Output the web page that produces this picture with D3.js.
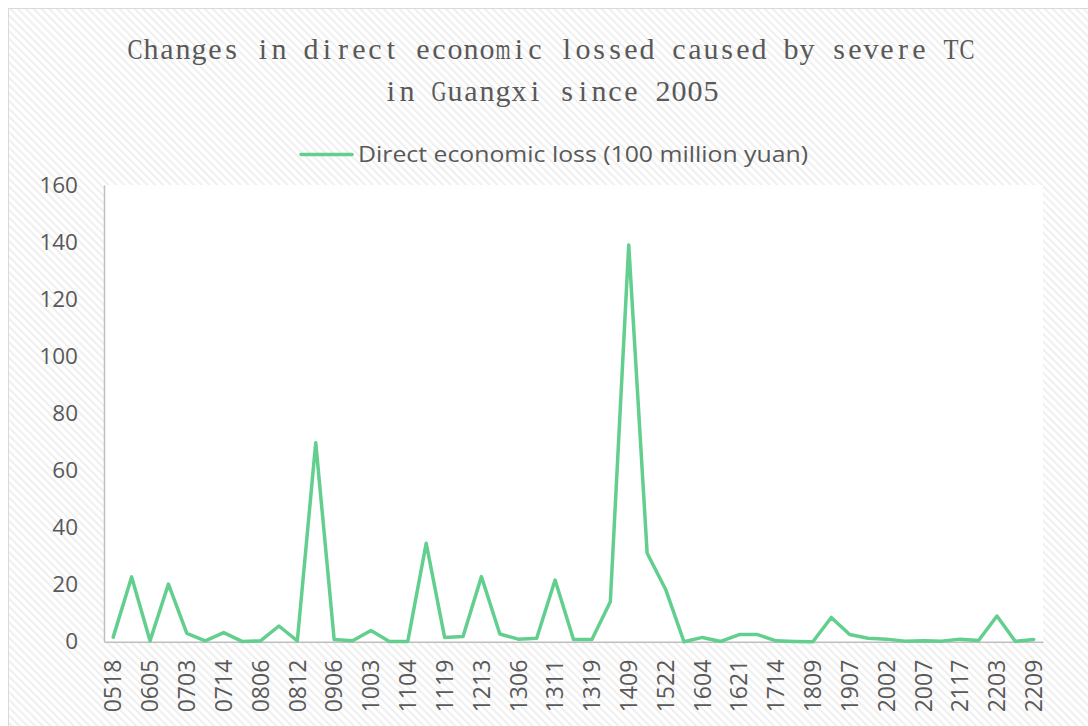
<!DOCTYPE html>
<html>
<head>
<meta charset="utf-8">
<script src="https://cdn.jsdelivr.net/npm/d3@7/dist/d3.min.js"></script>
<style>
  html, body { margin: 0; padding: 0; background: #ffffff; }
  svg { display: block; }
</style>
</head>
<body>
<svg id="chart" width="1088" height="726"></svg>
<script>
// Typhoon codes (YYNN) affecting Guangxi, in order of occurrence
const typhoons = [
  "0518","0604","0605","0606","0703","0709","0714","0801","0806","0809",
  "0812","0814","0906","0915","1003","1011","1104","1117","1119","1208",
  "1213","1223","1306","1309","1311","1316","1319","1330","1409","1415",
  "1522","1601","1604","1608","1621","1622","1714","1720","1809","1822",
  "1907","1911","2002","2004","2007","2016","2117","2118","2203","2207",
  "2209"
];

// Direct economic loss per typhoon, 100 million yuan
const lossValues = [
  1.6, 22.7, 0.3, 20.2, 2.9, 0.3, 3.2, 0.1, 0.3, 5.5,
  0.3, 69.7, 0.8, 0.3, 3.9, 0.1, 0.1, 34.5, 1.5, 1.8,
  22.8, 2.7, 0.9, 1.2, 21.6, 0.8, 0.8, 14.0, 139.0, 31.0,
  18.4, 0.0, 1.5, 0.1, 2.5, 2.5, 0.3, 0.1, 0.0, 8.5,
  2.5, 1.2, 0.9, 0.2, 0.3, 0.2, 0.9, 0.4, 9.0, 0.1,
  0.8
];

const yTicks = [0, 20, 40, 60, 80, 100, 120, 140, 160];
const titleLines = [
  "Changes in direct economic lossed caused by severe TC",
  "in Guangxi since 2005"
];
const seriesName = "Direct economic loss (100 million yuan)";

const svg = d3.select("#chart");
const W = 1088, H = 726;
const plot = { left: 104, right: 1043, top: 185, bottom: 641.7 };
const lineColor = "#62cf8f";
const textColor = "#595959";
const axisColor = "#bfbfbf";

// Diagonal hatch fill for the chart background
const defs = svg.append("defs");
const pat = defs.append("pattern")
  .attr("id", "hatch")
  .attr("patternUnits", "userSpaceOnUse")
  .attr("width", 5.5).attr("height", 5.5)
  .attr("patternTransform", "rotate(-45)");
pat.append("rect").attr("width", 5.5).attr("height", 5.5).attr("fill", "#ffffff");
pat.append("line")
  .attr("x1", 1).attr("y1", 0).attr("x2", 1).attr("y2", 5.5)
  .attr("stroke", "#efefef").attr("stroke-width", 2);

svg.append("rect").attr("width", W).attr("height", H).attr("fill", "#ffffff");
svg.append("rect")
  .attr("x", 8.5).attr("y", 8.5)
  .attr("width", W + 20).attr("height", H + 20)
  .attr("fill", "url(#hatch)")
  .attr("stroke", "#d9d9d9").attr("stroke-width", 1);

// Plot area
svg.append("rect")
  .attr("x", plot.left).attr("y", plot.top)
  .attr("width", plot.right - plot.left)
  .attr("height", plot.bottom - plot.top)
  .attr("fill", "#ffffff");

// Title: monospaced serif look, each glyph fitted into a fixed-width cell
const cell = 16, cx = 551, maxGlyph = 15, baseSqueeze = 1.0;
const titleBaselines = [59, 101];
titleLines.forEach((line, li) => {
  const left = cx - (line.length * cell) / 2;
  const g = svg.append("g").attr("transform", `translate(${left},${titleBaselines[li]})`);
  line.split("").forEach((ch, i) => {
    if (ch === " ") return;
    const cg = g.append("g");
    const t = cg.append("text")
      .attr("text-anchor", "middle")
      .attr("font-family", "'Liberation Serif', 'DejaVu Serif', serif")
      .attr("font-size", 30)
      .attr("fill", textColor)
      .text(ch);
    const w = t.node().getComputedTextLength();
    const s = Math.min(baseSqueeze, maxGlyph / w);
    cg.attr("transform", `translate(${(i + 0.5) * cell},0) scale(${s},1)`);
  });
});

// Scales
const x = d3.scaleBand().domain(typhoons).range([plot.left, plot.right]).paddingInner(0).paddingOuter(0);
const xc = d => x(d) + x.bandwidth() / 2;
const y = d3.scaleLinear().domain([0, 160]).range([plot.bottom, plot.top]);

// Y axis
const yAxis = d3.axisLeft(y).tickValues(yTicks).tickSize(0).tickPadding(26).tickFormat(d3.format("d"));
const yG = svg.append("g").attr("transform", `translate(${plot.left},0)`).call(yAxis);
yG.select(".domain").attr("stroke", axisColor).attr("stroke-width", 1.5);
yG.selectAll("text")
  .attr("font-family", "'Open Sans', 'Noto Sans', sans-serif")
  .attr("font-size", 22.5)
  .attr("fill", textColor);

// X axis: every second typhoon is labelled
const xAxis = d3.axisBottom(x)
  .tickValues(typhoons.filter((d, i) => i % 2 === 0))
  .tickSize(0).tickSizeOuter(0);
const xG = svg.append("g").attr("transform", `translate(0,${plot.bottom})`).call(xAxis);
xG.select(".domain").attr("stroke", axisColor).attr("stroke-width", 1.5);
xG.selectAll(".tick text")
  .attr("font-family", "'Open Sans', 'Noto Sans', sans-serif")
  .attr("font-size", 23)
  .attr("fill", textColor)
  .attr("text-anchor", "end")
  .attr("dy", "0.36em")
  .attr("transform", "translate(0,15) rotate(-90)")
  .attr("y", 0)
  .attr("x", -3);

// Loss line
const series = typhoons.map((t, i) => ({ t, v: lossValues[i] }));
svg.append("path")
  .datum(series)
  .attr("fill", "none")
  .attr("stroke", lineColor)
  .attr("stroke-width", 3.5)
  .attr("stroke-linejoin", "round")
  .attr("stroke-linecap", "round")
  .attr("d", d3.line().x(d => xc(d.t)).y(d => y(d.v)));

// Legend
const leg = svg.append("g");
leg.append("line")
  .attr("x1", 301).attr("x2", 352).attr("y1", 154.5).attr("y2", 154.5)
  .attr("stroke", lineColor).attr("stroke-width", 3.5).attr("stroke-linecap", "round");
leg.append("text")
  .attr("x", 358).attr("y", 162)
  .attr("font-family", "'Open Sans', 'Noto Sans', sans-serif")
  .attr("font-size", 22.5)
  .attr("fill", textColor)
  .attr("textLength", 450)
  .attr("lengthAdjust", "spacingAndGlyphs")
  .text(seriesName);
</script>
</body>
</html>
